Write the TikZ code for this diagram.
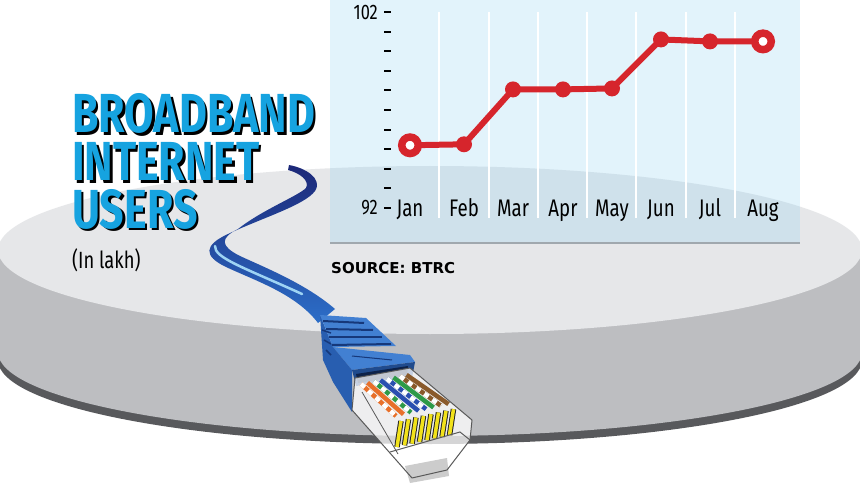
\documentclass[tikz,border=0pt]{standalone}
\usepackage{fontspec}
\setmainfont{Fira Sans}
\newfontfamily\condfont[FakeStretch=0.78]{Fira Sans}
\newfontfamily\srcfont{DejaVu Sans}
\definecolor{titleblue}{RGB}{22,163,224}
\definecolor{chartred}{RGB}{214,37,44}
\definecolor{panellight}{RGB}{226,243,251}
\definecolor{paneldark}{RGB}{207,225,235}
\definecolor{panelline}{RGB}{160,168,174}
\definecolor{disctop}{RGB}{230,231,233}
\definecolor{discside}{RGB}{189,190,193}
\definecolor{discrim}{RGB}{88,89,92}
\definecolor{cablenavy}{RGB}{28,40,120}
\definecolor{cablecyan}{RGB}{60,170,232}
\definecolor{cableblue}{RGB}{44,110,200}
\definecolor{boottop}{RGB}{66,128,210}
\definecolor{bootside}{RGB}{40,94,176}
\definecolor{bootdark}{RGB}{22,56,122}
\definecolor{wireorange}{RGB}{232,112,42}
\definecolor{wiregreen}{RGB}{46,154,72}
\definecolor{wireblue}{RGB}{42,79,176}
\definecolor{wirebrown}{RGB}{138,90,43}
\definecolor{pinyellow}{RGB}{242,226,27}

\begin{document}
\begin{tikzpicture}[x=1pt, y=-1pt,
  title/.style={font=\condfont\bfseries\fontsize{55}{55}\selectfont, anchor=base west, inner sep=0pt},
  month/.style={font=\condfont\fontsize{24}{24}\selectfont, anchor=base, inner sep=0pt},
  ticklabel/.style={font=\condfont\fontsize{21}{21}\selectfont, anchor=east, inner sep=0pt},
  dot/.style={circle, fill=chartred, inner sep=0pt, minimum size=16pt},
  ring/.style={circle, draw=chartred, line width=7.5pt, fill=white, inner sep=0pt, minimum size=16.5pt},
  wire/.style={line width=4.5pt},
  pin/.style={line width=3.5pt, pinyellow}]
\useasboundingbox (0,0) rectangle (860,484);
\fill[white] (0,0) rectangle (860,484);

\fill[discrim] (-2,250) rectangle (862,360);
\fill[discrim] (430,360) ellipse [x radius=432pt, y radius=84pt];
\fill[discside] (-2,250) rectangle (862,352);
\fill[discside] (430,352) ellipse [x radius=432pt, y radius=84pt];
\fill[disctop] (430,250) ellipse [x radius=432pt, y radius=84pt];

\fill[panellight] (330,0) rectangle (800,243);
\begin{scope}
  \clip (430,250) ellipse [x radius=432pt, y radius=84pt];
  \fill[paneldark] (330,0) rectangle (800,243);
\end{scope}
\draw[panelline, line width=2pt] (330,243) -- (800,243);
\foreach \x in {439,489,538,587,636,686,735}
  \draw[white, line width=2pt] (\x,12) -- (\x,218);

\begin{scope}[shift={(0,208)}, yscale=-19.6]
  \foreach \t in {0,...,10}
    \draw[line width=2pt] (384,\t) -- (391,\t);
  \node[ticklabel] (top) at (378,10) {102};
  \node[ticklabel] (bottom) at (378,0) {92};
  \foreach \m/\x/\v in {jan/410/3.2, feb/464/3.25, mar/513/6.05, apr/563/6.05,
                        may/612/6.1, jun/661/8.6, jul/710/8.5, aug/763/8.5}
    \coordinate (\m) at (\x,\v);
\end{scope}
\draw[chartred, line width=6pt, line join=round]
  (jan) -- (feb) -- (mar) -- (apr) -- (may) -- (jun) -- (jul) -- (aug);
\foreach \m in {feb,mar,apr,may,jun,jul}
  \node[dot] (d\m) at (\m) {};
\node[ring] (djan) at (jan) {};
\node[ring] (daug) at (aug) {};
\foreach \m/\x in {Jan/410, Feb/464, Mar/513, Apr/563, May/612, Jun/661, Jul/710, Aug/763}
  \node[month] (l\m) at (\x,217) {\m};

\node[font=\srcfont\bfseries\fontsize{15}{15}\selectfont, anchor=base west, inner sep=0pt]
  (source) at (331,273) {SOURCE: BTRC};

\node[title, text=black] at (74.5,135.5) {BROADBAND};
\node[title, text=titleblue] (broadband) at (72,133) {BROADBAND};
\node[title, text=black] at (74.5,183.5) {INTERNET};
\node[title, text=titleblue] (internet) at (72,181) {INTERNET};
\node[title, text=black] at (74.5,230.5) {USERS};
\node[title, text=titleblue] (users) at (72,228) {USERS};
\node[font=\condfont\fontsize{23.5}{23.5}\selectfont, anchor=base west, inner sep=0pt]
  (unit) at (72,268) {(In lakh)};

\shade[top color=cablenavy, middle color=cablecyan, bottom color=cableblue]
  (289,165) .. controls (306,168) and (323,179) .. (315,191)
  .. controls (305,205) and (262,218) .. (228,234)
  .. controls (204,245) and (203,256) .. (226,267)
  .. controls (256,281) and (296,294) .. (318,323)
  -- (335,309)
  .. controls (306,284) and (266,268) .. (240,256)
  .. controls (220,246) and (220,238) .. (238,229)
  .. controls (262,210) and (298,196) .. (306,188)
  .. controls (310,181) and (300,173) .. (288,170) -- cycle;
\draw[cablecyan!50!white, line width=2.5pt, line cap=round]
  (215,246) .. controls (214,258) and (245,268) .. (302,294);

\fill[bootside] (320,315) -- (333,347) -- (333,382) -- (323,360) -- cycle;
\fill[boottop] (320,315) -- (366,318) -- (396,346) -- (333,347) -- cycle;
\foreach \i in {0,1,2,3}
  \draw[bootdark, line width=2pt] (323+3*\i,321+8*\i) -- (364+9*\i,323+7*\i);
\foreach \i in {0,1,2}
  \draw[bootdark, line width=1.5pt] (322+2*\i,330+10*\i) -- (331,333+11*\i);
\fill[boottop] (333,347) -- (410,355) -- (415,362) -- (352,370) -- cycle;
\draw[bootdark, line width=1pt] (352,356) -- (392,360);
\fill[bootside] (333,347) -- (352,370) -- (352,412) -- (333,382) -- cycle;
\fill[bootside!80!black] (352,370) -- (415,362) -- (412,378) -- (356,386) -- cycle;
\fill[bootdark!60!black] (356,374) -- (408,366) -- (407,375) -- (358,383) -- cycle;

\fill[white, opacity=0.75] (355,378) -- (410,368) -- (472,420) -- (470,440)
  -- (447,470) -- (412,478) -- (352,410) -- cycle;
\fill[gray!40] (405,466) -- (447,458) -- (449,476) -- (410,483) -- cycle;
\foreach \i/\c/\s in {0/wireorange/1, 1/wireorange/0, 2/wiregreen/1, 3/wireblue/0,
                      4/wireblue/1, 5/wiregreen/0, 6/wirebrown/1, 7/wirebrown/0} {
  \draw[wire, \c] (361+6.5*\i,384-1.3*\i) -- (396+7.5*\i,416-1.7*\i);
  \ifnum\s=1
    \draw[wire, white, dash pattern=on 5pt off 5pt] (361+6.5*\i,384-1.3*\i) -- (396+7.5*\i,416-1.7*\i);
  \fi
}
\foreach \i in {0,...,7} {
  \draw[line width=5.5pt, black!85] (401+7.5*\i,421-1.7*\i) -- (397+7.5*\i,447-1.7*\i);
  \draw[pin] (401+7.5*\i,421-1.7*\i) -- (397+7.5*\i,447-1.7*\i);
}
\draw[gray!70!black, line width=1pt, line join=round] (355,378) -- (410,368) -- (472,420)
  -- (470,440) -- (447,470) -- (412,478) -- (352,410) -- cycle;
\draw[gray!70!black, line width=1pt] (390,452) -- (460,432) -- (470,440);
\draw[gray!70!black, line width=0.8pt] (362,392) -- (398,454);
\end{tikzpicture}
\end{document}
